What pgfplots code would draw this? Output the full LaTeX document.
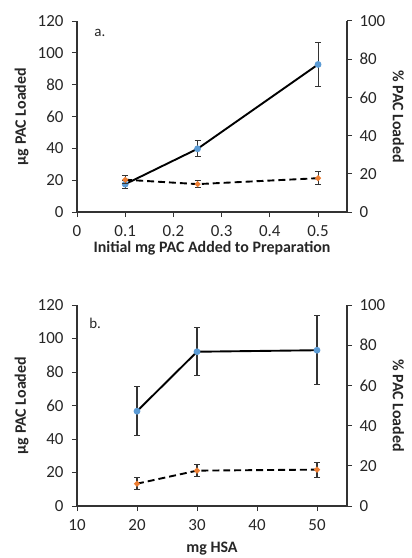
\documentclass[border=0pt]{standalone}
\usepackage{pgfplots}
\pgfplotsset{compat=1.18}
\usepackage{fontspec}
\setmainfont{Carlito}
\definecolor{ablue}{RGB}{91,155,213}
\definecolor{aorange}{RGB}{237,125,49}
\pgfplotsset{
  base/.style={scale only axis, width=270bp,
    axis line style={line width=1.2pt, color=black!80},
    tick style={line width=1pt, black!80},
    tick align=outside, major tick length=5bp,
    /pgf/number format/assume math mode=true,
    tick label style={font=\fontsize{17}{20}\selectfont, text=black!85},
    label style={font=\bfseries\fontsize{16}{19}\selectfont, text=black!85},
    xticklabel style={yshift=-5bp},
    clip=false},
  leftax/.style={base, axis x line*=bottom, axis y line*=left,
    yticklabel style={xshift=-5bp},
    ylabel style={at={(axis description cs:-0.205,0.5)}, anchor=center}},
  rightax/.style={base, axis x line=none, axis y line*=right,
    yticklabel style={xshift=4bp},
    ylabel style={rotate=180, at={(axis description cs:1.19,0.5)}, anchor=center}},
  solidser/.style={black, line width=1.9pt, mark=*, mark options={solid, fill=ablue, draw=ablue, mark size=2.4bp},
    error bars/.cd, y dir=both, y explicit,
    error bar style={black!80, line width=1.1pt, solid},
    error mark options={rotate=90, mark size=3bp, black!80, line width=1.1pt, solid}},
  dashser/.style={black, line width=1.9pt, dash pattern=on 7pt off 4pt, mark=*, mark options={solid, fill=aorange, draw=aorange, mark size=1.8bp},
    error bars/.cd, y dir=both, y explicit,
    error bar style={black!80, line width=1.1pt, solid},
    error mark options={rotate=90, mark size=3bp, black!80, line width=1.1pt, solid}},
}
\begin{document}
\begin{tikzpicture}
\useasboundingbox (-77bp,-346bp) rectangle (335bp,212bp);
% ---------- panel a ----------
\begin{axis}[leftax, height=191bp, at={(0,0)}, anchor=south west,
  xmin=0, xmax=0.56, xtick={0,0.1,0.2,0.3,0.4,0.5},
  ymin=0, ymax=120, ytick={0,20,40,60,80,100,120},
  xlabel={Initial mg PAC Added to Preparation},
  xlabel style={at={(axis description cs:0.5,-0.19)}, anchor=center},
  ylabel={µg PAC Loaded}]
\addplot[solidser] coordinates {
  (0.1,17.5) +- (0,2.5)
  (0.25,39.7) +- (0,5)
  (0.5,92.7) +- (0,14)
};
\node[font=\fontsize{15}{17}\selectfont, text=black!85] at (rel axis cs:0.085,0.937) {a.};
\end{axis}
\begin{axis}[rightax, height=191bp, at={(0,0)}, anchor=south west,
  xmin=0, xmax=0.56,
  ymin=0, ymax=100, ytick={0,20,40,60,80,100},
  ylabel={\% PAC Loaded}]
\addplot[dashser] coordinates {
  (0.1,16.9) +- (0,2)
  (0.25,14.6) +- (0,1.8)
  (0.5,17.7) +- (0,3.3)
};
\end{axis}
% ---------- panel b ----------
\begin{axis}[leftax, height=201bp, at={(0,-294bp)}, anchor=south west,
  xmin=10, xmax=55, xtick={10,20,30,40,50},
  ymin=0, ymax=120, ytick={0,20,40,60,80,100,120},
  xlabel={mg HSA},
  xlabel style={at={(axis description cs:0.5,-0.212)}, anchor=center},
  ylabel={µg PAC Loaded}]
\addplot[solidser] coordinates {
  (20,56.6) +- (0,14.5)
  (30,92.1) +- (0,14.2)
  (50,93.0) +- (0,20.5)
};
\node[font=\fontsize{15}{17}\selectfont, text=black!85] at (rel axis cs:0.067,0.91) {b.};
\end{axis}
\begin{axis}[rightax, height=201bp, at={(0,-294bp)}, anchor=south west,
  xmin=10, xmax=55,
  ymin=0, ymax=100, ytick={0,20,40,60,80,100},
  ylabel={\% PAC Loaded}]
\addplot[dashser] coordinates {
  (20,11.1) +- (0,2.9)
  (30,17.6) +- (0,2.9)
  (50,18.1) +- (0,3.7)
};
\end{axis}
\end{tikzpicture}
\end{document}
